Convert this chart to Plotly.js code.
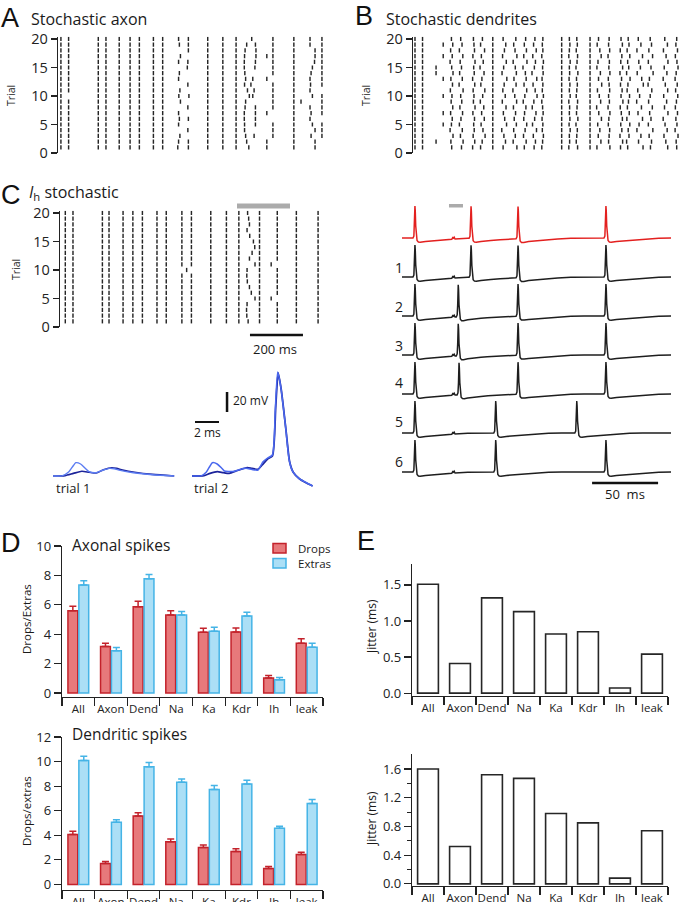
<!DOCTYPE html>
<html>
<head>
<meta charset="utf-8">
<script src="https://cdn.plot.ly/plotly-3.0.1.min.js"></script>
<style>
  html, body { margin: 0; padding: 0; background: #fff; }
  #fig { width: 682px; height: 902px; }
</style>
</head>
<body>
<div id="fig"></div>
<script>
// ---------------- raster data (spike times in ms, trials 1..20) ----------------
const axonFixed = [11, 40, 152, 181, 231, 272, 307, 360, 395, 565, 622, 672, 890];
const axonDropped = [[40, 10]];            // [spike time, trial] pairs that failed
const axonVar = [
  [452, 492, 720, 788, 970],
  [455, 492, 712, 788, 970],
  [460, 708, 740, 811, 955, 996],
  [490, 704, 811, 970, 996],
  [455, 704, 745, 811, 960, 996],
  [458, 492, 703, 745, 951],
  [455, 703, 745, 788, 955, 996],
  [490, 706, 745, 811, 951, 996],
  [462, 708, 811, 917, 996],
  [456, 494, 722, 735, 811, 960, 996],
  [460, 715, 740, 811, 951],
  [490, 704, 728, 811, 953, 996],
  [455, 708, 735, 788, 951, 996],
  [458, 705, 811, 955, 996],
  [488, 703, 743, 811, 960, 996],
  [455, 490, 703, 745, 811, 968, 996],
  [462, 704, 747, 788, 811, 970, 996],
  [492, 706, 747, 811, 970, 996],
  [458, 492, 712, 745, 811, 951, 996],
  [455, 492, 731, 811, 951, 996]
];

const dendFixed = [7.5, 36, 301, 561, 668];
const dendVar = [
  [146, 183, 225, 255, 340, 392, 420, 457, 486, 588, 621, 694, 743, 783, 810, 868, 896, 961, 995],
  [87, 143, 189, 233, 261, 349, 378, 427, 462, 489, 591, 616, 709, 738, 791, 806, 851, 900, 954, 993],
  [151, 179, 227, 272, 343, 386, 417, 454, 492, 590, 618, 699, 740, 781, 815, 860, 891, 947, 1000],
  [140, 186, 231, 264, 335, 380, 423, 466, 488, 593, 620, 705, 742, 788, 812, 845, 905, 959, 989],
  [114, 145, 175, 229, 257, 353, 390, 429, 451, 490, 589, 615, 697, 737, 784, 818, 853, 888, 951, 996],
  [148, 181, 232, 269, 346, 382, 418, 459, 487, 592, 622, 711, 739, 790, 807, 866, 898, 944, 992],
  [114, 142, 187, 226, 259, 341, 387, 421, 464, 491, 590, 617, 701, 743, 786, 816, 849, 893, 962, 998],
  [150, 177, 234, 267, 351, 379, 426, 450, 489, 591, 619, 693, 736, 782, 809, 862, 903, 949, 990],
  [144, 184, 228, 254, 337, 391, 416, 456, 486, 588, 621, 708, 741, 792, 813, 844, 889, 957, 994],
  [114, 147, 180, 230, 263, 348, 384, 422, 468, 492, 593, 616, 703, 738, 785, 817, 855, 895, 946, 999],
  [141, 189, 227, 271, 339, 377, 429, 461, 488, 590, 618, 696, 742, 789, 808, 848, 901, 961, 991],
  [149, 174, 233, 256, 344, 389, 419, 453, 490, 592, 620, 712, 740, 783, 811, 869, 887, 952, 997],
  [114, 143, 186, 225, 260, 354, 381, 427, 467, 487, 589, 617, 700, 737, 787, 819, 863, 892, 944, 989],
  [87, 151, 176, 231, 268, 336, 390, 424, 449, 491, 591, 622, 707, 743, 781, 806, 846, 906, 958, 993],
  [87, 146, 183, 229, 253, 342, 386, 415, 458, 489, 590, 615, 694, 739, 791, 814, 858, 898, 948, 1000],
  [140, 178, 234, 265, 352, 378, 430, 462, 492, 593, 619, 698, 741, 784, 810, 852, 888, 962, 996],
  [114, 148, 188, 226, 258, 338, 392, 418, 452, 486, 588, 621, 710, 736, 788, 818, 866, 904, 955, 990],
  [142, 175, 232, 270, 345, 385, 428, 465, 490, 590, 616, 705, 742, 782, 808, 845, 890, 945, 998],
  [114, 150, 185, 230, 255, 350, 380, 420, 455, 488, 592, 620, 695, 738, 790, 815, 860, 900, 960, 992],
  [145, 180, 228, 262, 340, 388, 425, 460, 490, 590, 618, 700, 740, 785, 812, 850, 895, 950, 995]
];

const ihFixed = [20, 49, 160, 185, 238, 275, 311, 366, 401, 569, 628, 675, 753, 892, 974];
const ihVar = [
  [460, 496, 710, 820],
  [460, 496, 705, 820],
  [460, 496, 704, 820],
  [460, 496, 706, 820],
  [460, 496, 736, 797],
  [460, 496, 722, 820],
  [460, 496, 715, 820],
  [460, 496, 707, 820],
  [460, 496, 705, 820],
  [478, 706, 820],
  [460, 496, 736, 797],
  [460, 496, 715, 820],
  [460, 496, 725, 820],
  [460, 496, 735, 820],
  [460, 496, 730, 820],
  [460, 496, 716, 820],
  [460, 496, 706, 820],
  [460, 496, 715, 820],
  [460, 496, 712, 820],
  [460, 496, 708, 820]
];
const ihStimWindow = [668, 868];
const rasterScaleStart = 717;
const rasterScaleMs = 200;

// ---------------- dendritic voltage, two trials (ms, mV from rest) ----------------
const trial1Light = [[0,0],[0.8,0.4],[1.3,4],[1.7,10.5],[1.9,13.3],[2.3,12],[2.7,7.5],[3.0,4.3],[3.6,3.3],[4.2,6],[4.7,7.6],[5.1,7.2],[5.6,5.6],[6.7,3.3],[8.3,1.3],[10.1,0]];
const trial1Dark  = [[0,0],[1.0,0.4],[1.7,2.6],[2.4,4.7],[3.0,3.8],[3.6,3.0],[4.2,6.2],[4.9,8.3],[5.3,7.6],[5.8,6],[6.8,3.8],[8.3,1.6],[10.1,0]];
const trial2Light = [[0,0],[0.8,0.4],[1.2,4],[1.5,10],[1.7,13.3],[2.1,12],[2.5,7.5],[2.7,5],[3.4,4.5],[4.0,6.5],[4.5,7.7],[5.0,6.5],[5.5,6],[5.9,14],[6.3,18],[6.7,21],[6.94,66],[7.14,104],[7.4,89],[7.8,49],[8.1,16],[8.4,4.3],[8.9,-2.3],[9.5,-6.5],[10.05,-10]];
const trial2Dark  = [[0,0],[1.0,0.4],[1.5,2.6],[2.1,4.3],[2.6,3.4],[3.1,2.7],[3.8,5.5],[4.6,8.3],[5.0,7.5],[5.5,6.7],[5.85,11],[6.3,17],[6.7,20],[6.98,70],[7.18,103],[7.44,86],[7.84,45],[8.14,14],[8.45,3.5],[8.95,-2.8],[9.5,-6.8],[10.05,-10]];
const mVScale = 20;
const msScale = 2;

// ---------------- somatic sweeps (spike times in ms) ----------------
const sweepEnd = 203.8;
const sweepStimAt = 38.9;
const sweepStimWindow = [35.6, 46.2];
const controlSpikes = [9.8, 52.3, 87.9, 154.5];
const sweepSpikes = [
  [9.8, 52.3, 87.9, 154.5],
  [9.8, 42.6, 87.9, 154.5],
  [9.8, 42.6, 87.9, 154.5],
  [9.8, 43.2, 87.9, 154.5],
  [9.8, 71.0, 132.4],
  [9.8, 71.0, 154.5]
];
const sweepLabels = ['1', '2', '3', '4', '5', '6'];
// action potential and stimulus artefact waveforms (ms, mV)
const spikeShape = [[-1.5,0],[-0.8,2],[-0.4,12],[-0.1,29],[0,32],[0.25,27],[0.6,12],[1.0,2],[1.6,-2.5],[2.6,-4],[4,-4.2],[8,-3.4],[15,-2.6],[22,-1.8],[30,-1.1],[40,-0.3],[50,0]];
const stimShape = [[-1.2,0],[-0.5,1.6],[0,1],[0.6,1.9],[1.3,0]];
const sweepScaleStart = 144;
const sweepScaleMs = 50;

// ---------------- drops / extras and jitter ----------------
const categories = ['All', 'Axon', 'Dend', 'Na', 'Ka', 'Kdr', 'Ih', 'leak'];
const axonalDrops      = [5.60, 3.16, 5.87, 5.30, 4.13, 4.15, 1.02, 3.39];
const axonalDropsErr   = [0.30, 0.23, 0.38, 0.30, 0.28, 0.27, 0.18, 0.30];
const axonalExtras     = [7.34, 2.87, 7.77, 5.30, 4.20, 5.24, 0.90, 3.12];
const axonalExtrasErr  = [0.30, 0.23, 0.30, 0.25, 0.28, 0.25, 0.15, 0.27];
const dendDrops        = [4.06, 1.71, 5.58, 3.47, 3.00, 2.68, 1.30, 2.44];
const dendDropsErr     = [0.28, 0.15, 0.25, 0.22, 0.22, 0.22, 0.16, 0.18];
const dendExtras       = [10.08, 5.07, 9.57, 8.32, 7.72, 8.18, 4.58, 6.59];
const dendExtrasErr    = [0.35, 0.20, 0.35, 0.27, 0.33, 0.30, 0.16, 0.32];
const axonalJitter     = [1.51, 0.41, 1.32, 1.13, 0.82, 0.85, 0.07, 0.54];
const dendJitter       = [1.60, 0.52, 1.52, 1.47, 0.98, 0.85, 0.08, 0.74];

// ---------------- helpers ----------------
const W = 682, H = 902;
const px = p => p / W;
const py = p => 1 - p / H;
const dx = (a, b) => [a / W, b / W];
const dy = (top, bottom) => [1 - bottom / H, 1 - top / H];
const INK = '#222';
const FONT = 'Open Sans, sans-serif';

function rasterTrace(trials, xa, ya) {
  const xs = [], ys = [];
  trials.forEach((spk, i) => {
    const k = i + 1;
    spk.forEach(t => { xs.push(t, t, null); ys.push(k - 0.37, k + 0.37, null); });
  });
  return { type: 'scatter', mode: 'lines', x: xs, y: ys, xaxis: xa, yaxis: ya,
           line: { color: '#262626', width: 1.45 }, hoverinfo: 'skip', showlegend: false };
}

function interp(shape, d) {
  if (d < shape[0][0] || d > shape[shape.length - 1][0]) return 0;
  for (let j = 1; j < shape.length; j++) {
    if (d <= shape[j][0]) {
      const [t0, v0] = shape[j - 1], [t1, v1] = shape[j];
      return v0 + (v1 - v0) * (d - t0) / (t1 - t0);
    }
  }
  return 0;
}

function sweep(spikes, offset) {
  const ts = new Set([0, sweepEnd]);
  spikes.forEach(s => spikeShape.forEach(p => {
    const t = s + p[0];
    if (t >= 0 && t <= sweepEnd) ts.add(+t.toFixed(3));
  }));
  stimShape.forEach(p => ts.add(+(sweepStimAt + p[0]).toFixed(3)));
  const x = [...ts].sort((a, b) => a - b);
  const y = x.map(t => offset + spikes.reduce((acc, s) => acc + interp(spikeShape, t - s), 0)
                     + interp(stimShape, t - sweepStimAt));
  return { x, y };
}

function pairTrace(pts, xa, ya, color, width) {
  return { type: 'scatter', mode: 'lines', x: pts.map(p => p[0]), y: pts.map(p => p[1]),
           xaxis: xa, yaxis: ya, line: { color, width, shape: 'spline', smoothing: 0.6 },
           hoverinfo: 'skip', showlegend: false };
}

// ---------------- traces ----------------
const axonTrials = axonVar.map((v, i) =>
  axonFixed.filter(t => !axonDropped.some(d => d[0] === t && d[1] === i + 1)).concat(v));
const dendTrials = dendVar.map(v => dendFixed.concat(v));
const ihTrials = ihVar.map(v => ihFixed.concat(v));

const data = [
  rasterTrace(axonTrials, 'x', 'y'),
  rasterTrace(dendTrials, 'x2', 'y2'),
  rasterTrace(ihTrials, 'x3', 'y3'),
  pairTrace(trial1Dark, 'x4', 'y4', '#1c239a', 1.6),
  pairTrace(trial1Light, 'x4', 'y4', '#5b7cf2', 1.4),
  pairTrace(trial2Dark, 'x5', 'y5', '#1c239a', 1.8),
  pairTrace(trial2Light, 'x5', 'y5', '#4a68ee', 1.5)
];

const ctrl = sweep(controlSpikes, 0);
data.push({ type: 'scatter', mode: 'lines', x: ctrl.x, y: ctrl.y, xaxis: 'x6', yaxis: 'y6',
            line: { color: '#e3201f', width: 1.5 }, hoverinfo: 'skip', showlegend: false });
sweepSpikes.forEach((s, i) => {
  const sw = sweep(s, -39 * (i + 1));
  data.push({ type: 'scatter', mode: 'lines', x: sw.x, y: sw.y, xaxis: 'x6', yaxis: 'y6',
              line: { color: '#1e1e1e', width: 1.5 }, hoverinfo: 'skip', showlegend: false });
});

function dropBar(vals, err, xa, ya) {
  return { type: 'bar', name: 'Drops', x: categories, y: vals, xaxis: xa, yaxis: ya,
           marker: { color: '#e7797b', line: { color: '#c3222b', width: 1.5 } },
           error_y: { type: 'data', array: err, arrayminus: err.map(() => 0), symmetric: false,
                      color: '#c3222b', thickness: 1.5, width: 3.5 },
           hoverinfo: 'skip', showlegend: false };
}
function extraBar(vals, err, xa, ya) {
  return { type: 'bar', name: 'Extras', x: categories, y: vals, xaxis: xa, yaxis: ya,
           marker: { color: '#abdff6', line: { color: '#45b4e6', width: 1.5 } },
           error_y: { type: 'data', array: err, arrayminus: err.map(() => 0), symmetric: false,
                      color: '#45b4e6', thickness: 1.5, width: 3.5 },
           hoverinfo: 'skip', showlegend: false };
}
function jitterBar(vals, xa, ya) {
  return { type: 'bar', x: categories, y: vals, xaxis: xa, yaxis: ya, width: 0.65,
           marker: { color: '#ffffff', line: { color: '#262626', width: 1.6 } },
           hoverinfo: 'skip', showlegend: false };
}
data.push(dropBar(axonalDrops, axonalDropsErr, 'x7', 'y7'));
data.push(extraBar(axonalExtras, axonalExtrasErr, 'x7', 'y7'));
data.push(dropBar(dendDrops, dendDropsErr, 'x8', 'y8'));
data.push(extraBar(dendExtras, dendExtrasErr, 'x8', 'y8'));
data.push(jitterBar(axonalJitter, 'x9', 'y9'));
data.push(jitterBar(dendJitter, 'x10', 'y10'));

// ---------------- axes ----------------
const hiddenAxis = (domain, range, anchor) => ({ domain, range, anchor, visible: false, fixedrange: true });
const rasterY = (domain, anchor) => ({
  domain, range: [0, 20.4], anchor, tickvals: [0, 5, 10, 15, 20], ticks: 'outside', ticklen: 6,
  tickwidth: 1.2, tickcolor: INK, showline: true, linecolor: INK, linewidth: 1.2,
  showgrid: false, zeroline: false, tickfont: { family: FONT, size: 14.5, color: INK }, fixedrange: true
});
const catAxis = (domain, anchor) => ({
  domain, anchor, type: 'category', showline: true, linecolor: INK, linewidth: 1.2,
  ticks: 'outside', tickson: 'boundaries', ticklen: 8, tickwidth: 1.2, tickcolor: INK,
  tickangle: 0, showgrid: false, zeroline: false, ticklabelstandoff: 1,
  tickfont: { family: FONT, size: 11.5, color: INK }, fixedrange: true
});
const valAxis = (domain, range, anchor, tickvals, fmt, minor) => {
  const a = {
    domain, range, anchor, tickvals, ticks: 'outside', ticklen: 7, tickwidth: 1.2, tickcolor: INK,
    showline: true, linecolor: INK, linewidth: 1.2, showgrid: false, zeroline: false,
    tickfont: { family: FONT, size: 13, color: INK }, fixedrange: true
  };
  if (fmt) a.tickformat = fmt;
  if (minor) a.minor = minor;
  return a;
};

const layout = {
  width: W, height: H, margin: { l: 0, r: 0, t: 0, b: 0 },
  paper_bgcolor: '#fff', plot_bgcolor: 'rgba(0,0,0,0)',
  showlegend: false, hovermode: false,
  barmode: 'group', bargap: 0.33, bargroupgap: 0.1,
  font: { family: FONT, color: INK },

  xaxis: hiddenAxis(dx(58, 328.3), [0, 1020], 'y'),
  yaxis: rasterY(dy(36.7, 153), 'x'),
  xaxis2: hiddenAxis(dx(413, 682), [0, 1015], 'y2'),
  yaxis2: rasterY(dy(36.7, 153), 'x2'),
  xaxis3: hiddenAxis(dx(60, 330), [0, 1019], 'y3'),
  yaxis3: rasterY(dy(210.7, 327), 'x3'),

  xaxis4: hiddenAxis(dx(53, 175.4), [0, 10.2], 'y4'),
  yaxis4: hiddenAxis(dy(366, 490), [-14, 110], 'x4'),
  xaxis5: hiddenAxis(dx(192, 314.4), [0, 10.2], 'y5'),
  yaxis5: hiddenAxis(dy(366, 490), [-14, 110], 'x5'),

  xaxis6: hiddenAxis(dx(402, 679.2), [0, 210], 'y6'),
  yaxis6: hiddenAxis(dy(200, 490), [-252, 38], 'x6'),

  xaxis7: catAxis(dx(62, 323), 'y7'),
  yaxis7: valAxis(dy(546, 697), [-0.27, 10], 'x7', [0, 2, 4, 6, 8, 10]),
  xaxis8: catAxis(dx(62, 323), 'y8'),
  yaxis8: valAxis(dy(737, 890), [-0.45, 12], 'x8', [0, 2, 4, 6, 8, 10, 12]),
  xaxis9: catAxis(dx(412, 668), 'y9'),
  yaxis9: valAxis(dy(564, 696), [-0.04, 1.79], 'x9', [0, 0.5, 1, 1.5], '.1f'),
  xaxis10: catAxis(dx(412, 668), 'y10'),
  yaxis10: valAxis(dy(754, 886), [-0.03, 1.81], 'x10', [0, 0.4, 0.8, 1.2, 1.6], '.1f',
                   { tickvals: [0.2, 0.6, 1.0, 1.4], ticks: 'outside', ticklen: 4, tickcolor: INK, tickwidth: 1.1 }),

  shapes: [
    // stimulus window above the Ih raster
    { type: 'rect', xref: 'x3', yref: 'paper', x0: ihStimWindow[0], x1: ihStimWindow[1],
      y0: py(208.5), y1: py(203.5), fillcolor: '#ababab', line: { width: 0 } },
    // 200 ms scale bar
    { type: 'line', xref: 'x3', yref: 'paper', x0: rasterScaleStart, x1: rasterScaleStart + rasterScaleMs,
      y0: py(335), y1: py(335), line: { color: '#111', width: 2.5 } },
    // 20 mV and 2 ms scale bars
    { type: 'line', xref: 'x5', yref: 'y5', x0: 2.92, x1: 2.92, y0: 64, y1: 64 + mVScale,
      line: { color: '#111', width: 2.5 } },
    { type: 'line', xref: 'x5', yref: 'y5', x0: 0.25, x1: 0.25 + msScale, y0: 54, y1: 54,
      line: { color: '#111', width: 2 } },
    // stimulus marker and 50 ms scale bar on the sweeps
    { type: 'rect', xref: 'x6', yref: 'y6', x0: sweepStimWindow[0], x1: sweepStimWindow[1],
      y0: 30.5, y1: 34, fillcolor: '#ababab', line: { width: 0 } },
    { type: 'line', xref: 'x6', yref: 'y6', x0: sweepScaleStart, x1: sweepScaleStart + sweepScaleMs,
      y0: -245, y1: -245, line: { color: '#111', width: 2.5 } },
    // legend swatches
    { type: 'rect', xref: 'paper', yref: 'paper', x0: px(273), x1: px(286), y0: py(553), y1: py(543.5),
      fillcolor: '#e7797b', line: { color: '#c3222b', width: 1.5 } },
    { type: 'rect', xref: 'paper', yref: 'paper', x0: px(273), x1: px(286), y0: py(568), y1: py(558.5),
      fillcolor: '#abdff6', line: { color: '#45b4e6', width: 1.5 } }
  ],
  annotations: []
};

const ann = layout.annotations;
function text(str, x, y, size, opts = {}) {
  ann.push(Object.assign({
    text: str, xref: 'paper', yref: 'paper', x: px(x), y: py(y), showarrow: false,
    xanchor: 'left', yanchor: 'middle', font: { family: FONT, size, color: '#1a1a1a' }
  }, opts));
}
const LETTER = { family: 'Liberation Sans, Arial, sans-serif', size: 27, color: '#111' };
text('A', -1, 18, 27, { font: LETTER });
text('B', 353, 16, 27, { font: LETTER });
text('C', -1, 195, 27, { font: LETTER });
text('D', -1, 543, 27, { font: LETTER });
text('E', 355, 541, 27, { font: LETTER });

text('Stochastic axon', 29, 19, 16);
text('Stochastic dendrites', 384, 19, 16);
text('<i>I</i><sub>h</sub> stochastic', 27, 192, 16);
text('Axonal spikes', 70, 545, 15.5);
text('Dendritic spikes', 70, 734, 15.5);

const rot = { textangle: -90, xanchor: 'center' };
text('Trial', 11, 96, 10.5, rot);
text('Trial', 366, 96, 10.5, rot);
text('Trial', 16, 270, 10.5, rot);
text('Drops/Extras', 26, 619, 11.5, rot);
text('Drops/extras', 26, 811, 11.5, rot);
text('Jitter (ms)', 371, 627, 12, rot);
text('Jitter (ms)', 371, 819, 12, rot);

text('Drops', 296, 548, 11.5);
text('Extras', 296, 563.5, 11.5);

text('200 ms', 275, 349, 13, { xanchor: 'center' });
text('trial 1', 54, 488, 13);
text('trial 2', 192, 488, 13);
text('20 mV', 231, 400, 12);
text('2 ms', 192, 432, 12);
text('50\u00a0 ms', 625, 494, 13, { xanchor: 'center' });
const labelY = [267, 306, 345, 383, 421, 461];
sweepLabels.forEach((s, i) => text(s, 399, labelY[i], 14, { xanchor: 'center' }));

Plotly.newPlot('fig', data, layout, { displayModeBar: false, staticPlot: true });
</script>
</body>
</html>
